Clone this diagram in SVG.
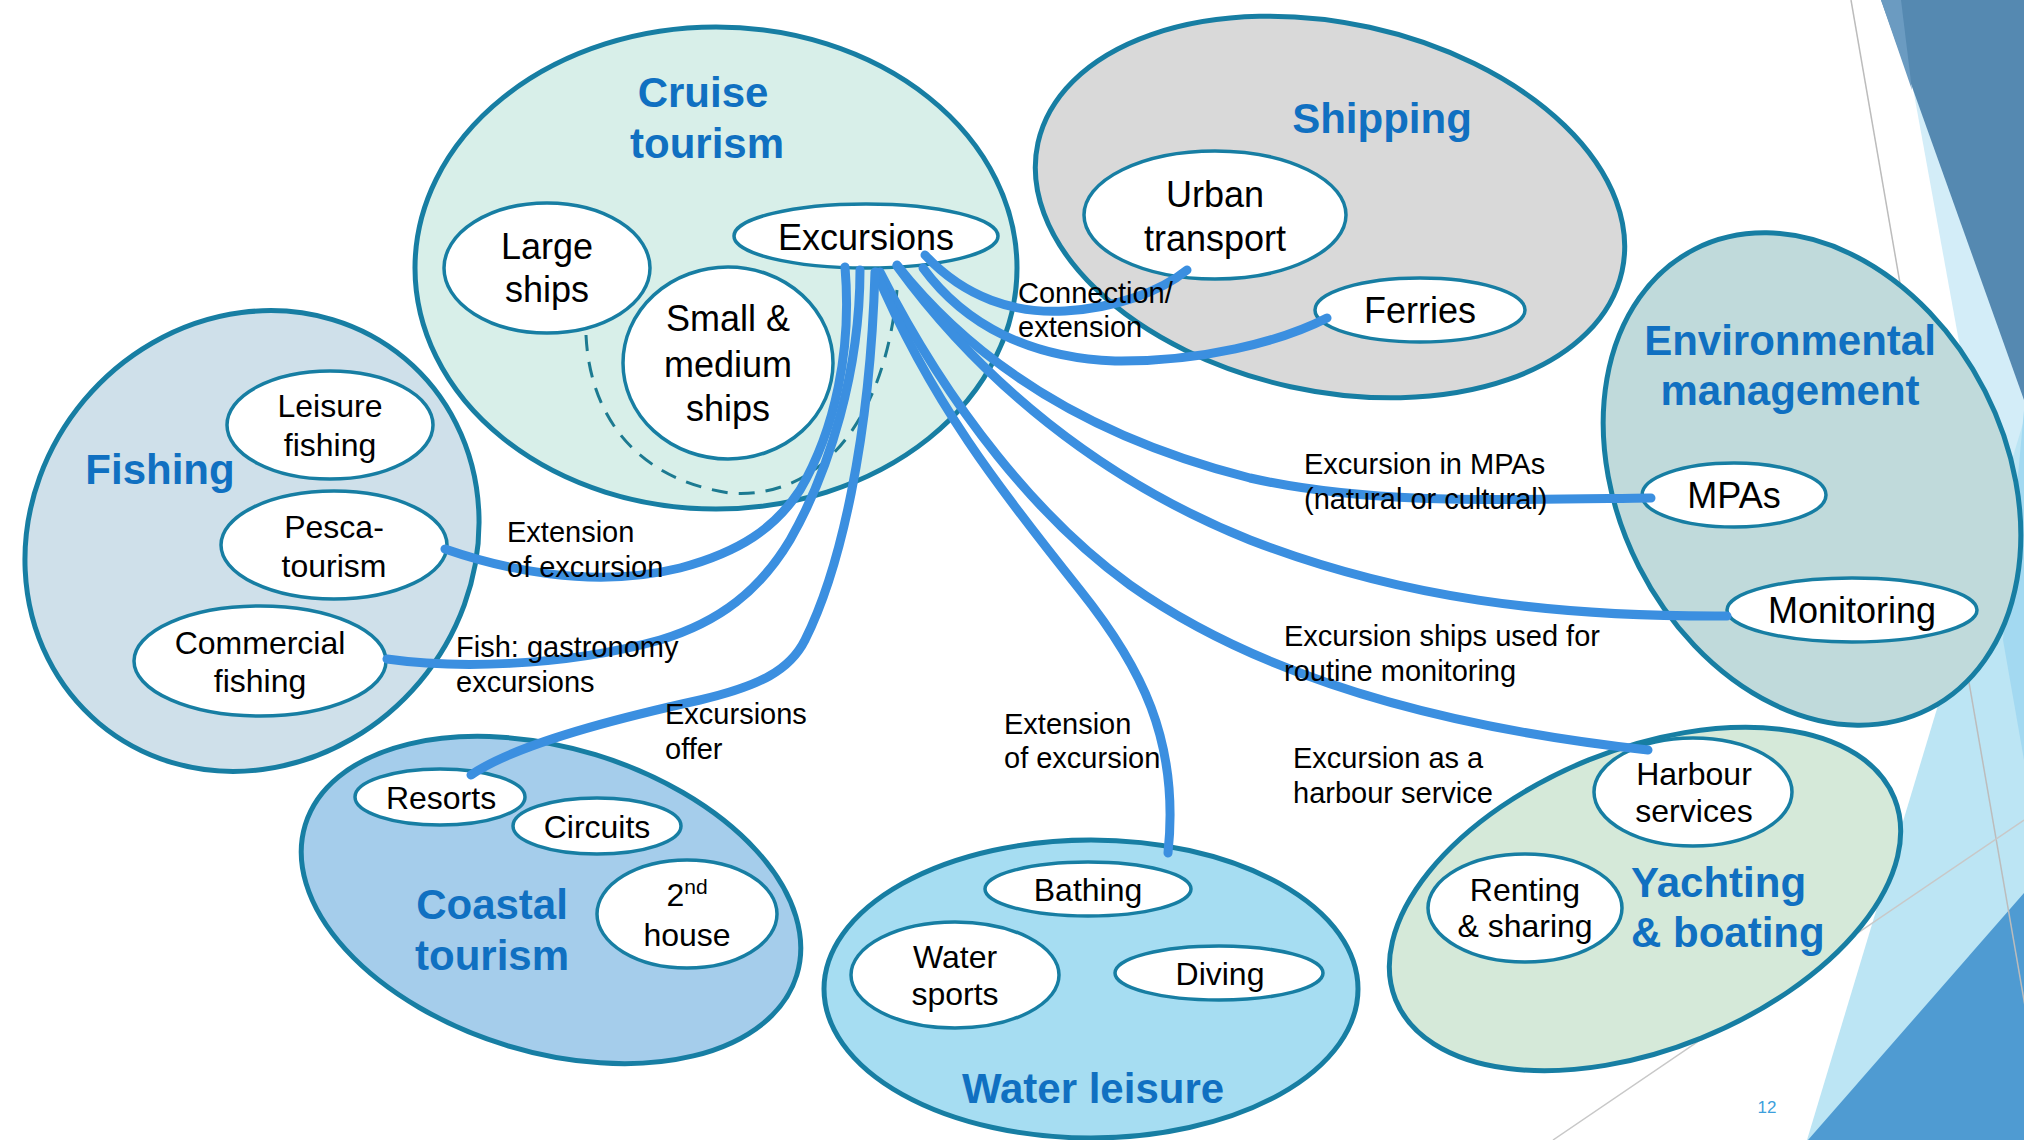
<svg xmlns="http://www.w3.org/2000/svg" width="2024" height="1140" viewBox="0 0 2024 1140">
<defs>
<style>
text { font-family: "Liberation Sans", Arial, sans-serif; fill: #000; }
.grp { stroke: #177ea3; stroke-width: 5; }
.node { fill: #fff; stroke: #177ea3; stroke-width: 3.5; }
.title { font-weight: bold; font-size: 42px; fill: #1070c1; text-anchor: middle; }
.ts { font-weight: bold; font-size: 42px; fill: #1070c1; }
.n36 { font-size: 36px; text-anchor: middle; }
.n32 { font-size: 32px; text-anchor: middle; }
.lbl { font-size: 29px; }
.conn { fill: none; stroke: #3b8fe0; stroke-width: 9; stroke-linecap: round; }
.dash { fill: none; stroke: #1c7a91; stroke-width: 3; stroke-dasharray: 16 11; }
.deco { stroke-width: 1.5; fill: none; }
</style>
</defs>
<rect width="2024" height="1140" fill="#ffffff"/>
<g id="background">
<polygon points="1897,0 2024,0 2024,700" fill="#d3edf8"/>
<polygon points="1881,0 2024,0 2024,400" fill="#5589b1"/>
<polygon points="1881,0 1901,0 1912,90" fill="#6b9bc1"/>
<polygon points="2024,420 1807,1140 2024,1140" fill="#bce5f4"/>
<polygon points="2024,410 2003,640 2024,760" fill="#a3d9f1"/>
<polygon points="2024,893 1808,1140 2024,1140" fill="#4f9bd2"/>
<line class="deco" x1="1851" y1="0" x2="2030" y2="1035" stroke="#bcbcbc"/>
<line class="deco" x1="1553" y1="1140" x2="2024" y2="820" stroke="#c8c8c8"/>
</g>
<g id="cruise-tourism">
<ellipse class="grp" cx="716" cy="268" rx="301" ry="241" fill="#d8efe9"/>
<text class="title" x="703" y="107">Cruise</text>
<text class="title" x="707" y="158">tourism</text>
<path class="dash" d="M586,335 C590,420 640,480 730,493 C820,500 885,420 897,290"/>
<g id="large-ships"><ellipse class="node" cx="547" cy="268" rx="103" ry="65"/><text class="n36" x="547" y="259">Large</text><text class="n36" x="547" y="302">ships</text></g>
<g id="small-medium-ships"><ellipse class="node" cx="728" cy="363" rx="105" ry="96"/><text class="n36" x="728" y="331">Small &amp;</text><text class="n36" x="728" y="377">medium</text><text class="n36" x="728" y="421">ships</text></g>
<g id="excursions"><ellipse class="node" cx="866" cy="236" rx="132" ry="32"/><text class="n36" x="866" y="250">Excursions</text></g>
</g>
<g id="shipping">
<ellipse class="grp" cx="1330" cy="207" rx="299" ry="184" transform="rotate(12.4 1330 207)" fill="#d9d9d9"/>
<text class="title" x="1382" y="133">Shipping</text>
<g id="urban-transport"><ellipse class="node" cx="1215" cy="215" rx="131" ry="64"/><text class="n36" x="1215" y="207">Urban</text><text class="n36" x="1215" y="251">transport</text></g>
<g id="ferries"><ellipse class="node" cx="1420" cy="310" rx="105" ry="32"/><text class="n36" x="1420" y="323">Ferries</text></g>
</g>
<g id="environmental-management">
<ellipse class="grp" cx="1812" cy="479" rx="194" ry="258" transform="rotate(-27 1812 479)" fill="#c0dadb"/>
<text class="title" x="1790" y="355">Environmental</text>
<text class="title" x="1790" y="405">management</text>
<g id="mpas"><ellipse class="node" cx="1734" cy="495" rx="92" ry="32"/><text class="n36" x="1734" y="508">MPAs</text></g>
<g id="monitoring"><ellipse class="node" cx="1852" cy="610" rx="125" ry="32"/><text class="n36" x="1852" y="623">Monitoring</text></g>
</g>
<g id="fishing">
<ellipse class="grp" cx="252" cy="541" rx="219" ry="238" transform="rotate(40 252 541)" fill="#cfe0ea"/>
<text class="title" x="160" y="484">Fishing</text>
<g id="leisure-fishing"><ellipse class="node" cx="330" cy="425" rx="103" ry="54"/><text class="n32" x="330" y="417">Leisure</text><text class="n32" x="330" y="456">fishing</text></g>
<g id="pesca-tourism"><ellipse class="node" cx="334" cy="545" rx="113" ry="54"/><text class="n32" x="334" y="538">Pesca-</text><text class="n32" x="334" y="577">tourism</text></g>
<g id="commercial-fishing"><ellipse class="node" cx="260" cy="661" rx="126" ry="55"/><text class="n32" x="260" y="654">Commercial</text><text class="n32" x="260" y="692">fishing</text></g>
</g>
<g id="coastal-tourism">
<ellipse class="grp" cx="551" cy="900" rx="257" ry="152" transform="rotate(17 551 900)" fill="#a5cdeb"/>
<text class="title" x="492" y="919">Coastal</text>
<text class="title" x="492" y="970">tourism</text>
<g id="resorts"><ellipse class="node" cx="440" cy="797" rx="85" ry="28"/><text class="n32" x="441" y="809">Resorts</text></g>
<g id="circuits"><ellipse class="node" cx="597" cy="826" rx="84" ry="28"/><text class="n32" x="597" y="838">Circuits</text></g>
<g id="second-house"><ellipse class="node" cx="687" cy="914" rx="90" ry="54"/><text class="n32" x="687" y="906">2<tspan font-size="21" dy="-12">nd</tspan></text><text class="n32" x="687" y="946">house</text></g>
</g>
<g id="water-leisure">
<ellipse class="grp" cx="1091" cy="989" rx="267" ry="149" fill="#a6ddf2"/>
<text class="title" x="1093" y="1103">Water leisure</text>
<g id="bathing"><ellipse class="node" cx="1088" cy="889" rx="103" ry="27"/><text class="n32" x="1088" y="901">Bathing</text></g>
<g id="water-sports"><ellipse class="node" cx="955" cy="975" rx="104" ry="53"/><text class="n32" x="955" y="968">Water</text><text class="n32" x="955" y="1005">sports</text></g>
<g id="diving"><ellipse class="node" cx="1219" cy="973" rx="104" ry="27"/><text class="n32" x="1220" y="985">Diving</text></g>
</g>
<g id="yachting-boating">
<ellipse class="grp" cx="1645" cy="899" rx="269" ry="150" transform="rotate(-22 1645 899)" fill="#d5e9d9"/>
<text class="ts" x="1631" y="897">Yachting</text>
<text class="ts" x="1631" y="947">&amp; boating</text>
<g id="harbour-services"><ellipse class="node" cx="1693" cy="792" rx="99" ry="54"/><text class="n32" x="1694" y="785">Harbour</text><text class="n32" x="1694" y="822">services</text></g>
<g id="renting-sharing"><ellipse class="node" cx="1525" cy="908" rx="97" ry="54"/><text class="n32" x="1525" y="901">Renting</text><text class="n32" x="1525" y="937">&amp; sharing</text></g>
</g>
<g id="connectors">
<path class="conn" stroke-width="8" d="M925,255 C965,298 1015,314 1065,311 C1115,308 1160,292 1187,270"/>
<path class="conn" d="M923,268 C965,325 1030,358 1115,361 C1200,362 1280,342 1327,318"/>
<path class="conn" d="M897,265 C980,370 1100,440 1250,478 C1370,505 1500,500 1651,498"/>
<path class="conn" d="M897,266 C980,380 1100,480 1250,540 C1400,598 1550,617 1727,616"/>
<path class="conn" d="M880,272 C950,410 1040,520 1130,585 C1250,670 1420,725 1648,750"/>
<path class="conn" d="M876,272 C930,400 1000,490 1080,590 C1140,665 1180,740 1168,853"/>
<path class="conn" stroke-width="10" d="M445,549 C500,568 590,590 680,568 C740,552 775,528 800,490 C835,430 852,350 845,267"/>
<path class="conn" d="M387,659 C450,668 560,668 660,640 C720,622 760,590 790,540 C830,470 860,370 860,270"/>
<path class="conn" d="M471,775 C510,748 600,722 700,700 C760,686 790,670 805,640 C840,570 870,440 875,272"/>
<text class="lbl" x="507" y="542">Extension</text>
<text class="lbl" x="507" y="577">of excursion</text>
<text class="lbl" x="1018" y="303">Connection/</text>
<text class="lbl" x="1018" y="337">extension</text>
<text class="lbl" x="1304" y="474">Excursion in MPAs</text>
<text class="lbl" x="1304" y="509">(natural or cultural)</text>
<text class="lbl" x="456" y="657">Fish: gastronomy</text>
<text class="lbl" x="456" y="692">excursions</text>
<text class="lbl" x="665" y="724">Excursions</text>
<text class="lbl" x="665" y="759">offer</text>
<text class="lbl" x="1004" y="734">Extension</text>
<text class="lbl" x="1004" y="768">of excursion</text>
<text class="lbl" x="1284" y="646">Excursion ships used for</text>
<text class="lbl" x="1284" y="681">routine monitoring</text>
<text class="lbl" x="1293" y="768">Excursion as a</text>
<text class="lbl" x="1293" y="803">harbour service</text>
</g>
<text x="1767" y="1113" font-size="17" text-anchor="middle" style="fill:#3d9fdc">12</text>
</svg>
